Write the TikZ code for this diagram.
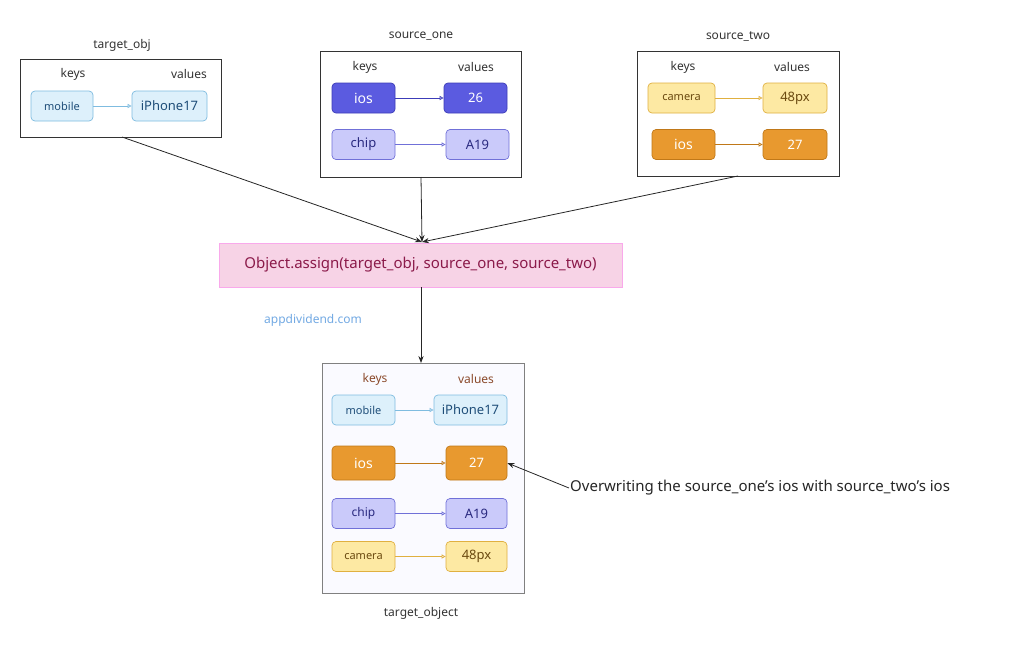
\documentclass[tikz,border=0pt]{standalone}
\usepackage{fontspec}
\setmainfont{Noto Sans}
\usetikzlibrary{arrows.meta}
\definecolor{bfill}{HTML}{DDF0FB}\definecolor{bdraw}{HTML}{7FBCE0}\definecolor{btext}{HTML}{1F4E79}
\definecolor{dfill}{HTML}{5B5BE0}\definecolor{ddraw}{HTML}{3C3CB8}
\definecolor{lfill}{HTML}{CACAFA}\definecolor{ldraw}{HTML}{7070D8}\definecolor{ltext}{HTML}{2A2A80}
\definecolor{yfill}{HTML}{FDE9A3}\definecolor{ydraw}{HTML}{E0B040}\definecolor{ytext}{HTML}{6B4A10}
\definecolor{ofill}{HTML}{E8992F}\definecolor{odraw}{HTML}{C07818}
\definecolor{pfill}{HTML}{F7D3E6}\definecolor{ptext}{HTML}{8B1A4A}
\definecolor{brown}{HTML}{8B4A2B}
\begin{document}
\begin{tikzpicture}[x=1pt,y=-1pt,
 box/.style={draw=black!80,line width=0.8pt,fill=white},
 kv/.style={rounded corners=4pt,line width=0.7pt,anchor=center,inner sep=0pt,minimum height=30pt,font=\fontsize{11}{13}\selectfont},
 blue/.style={kv,fill=bfill,draw=bdraw,text=btext},
 dark/.style={kv,fill=dfill,draw=ddraw,text=white,font=\fontsize{14}{16}\selectfont},
 light/.style={kv,fill=lfill,draw=ldraw,text=ltext},
 yel/.style={kv,fill=yfill,draw=ydraw,text=ytext},
 ora/.style={kv,fill=ofill,draw=odraw,text=white,font=\fontsize{14}{16}\selectfont},
 lbl/.style={font=\fontsize{12}{14}\selectfont,text=black!80},
 con/.style={-{Triangle[open,length=4pt,width=4pt]},line width=0.7pt},
 main/.style={-{Stealth[length=7pt]},line width=0.8pt,black!85}]
\useasboundingbox (0,0) rectangle (1024,648);
% target_obj
\draw[box] (20,59) rectangle (221,137);
\node[lbl] (t1) at (122,45) {target\_obj};
\node[lbl] at (73,74) {keys}; \node[lbl] at (189,74) {values};
\node[blue,minimum width=62pt] (a1) at (62,106) {mobile};
\node[blue,minimum width=75pt,font=\fontsize{13}{15}\selectfont] (a2) at (169.5,106) {iPhone17};
\draw[con,bdraw] (a1) -- (a2);
\coordinate (tb) at (122,137);
% source_one
\draw[box] (320,51) rectangle (521,177);
\node[lbl] at (421,36) {source\_one};
\node[lbl] at (365,67) {keys}; \node[lbl] at (476,67) {values};
\node[dark,minimum width=63pt] (b1) at (363.5,98) {ios};
\node[dark,minimum width=63pt,font=\bfseries\fontsize{13}{15}\selectfont] (b2) at (475.5,98) {26};
\draw[con,ddraw] (b1) -- (b2);
\node[light,minimum width=63pt,font=\fontsize{13}{15}\selectfont] (b3) at (363.5,144.5) {chip};
\node[light,minimum width=63pt,font=\fontsize{13}{15}\selectfont] (b4) at (477.5,144.5) {A19};
\draw[con,ldraw] (b3) -- (b4);
\coordinate (sb) at (421,177);
% source_two
\draw[box] (637,51) rectangle (839,176);
\node[lbl] at (738,36) {source\_two};
\node[lbl] at (683,67) {keys}; \node[lbl] at (792,67) {values};
\node[yel,minimum width=67pt] (c1) at (681.5,98) {camera};
\node[yel,minimum width=64pt,font=\fontsize{13}{15}\selectfont] (c2) at (795,98) {48px};
\draw[con,ydraw] (c1) -- (c2);
\node[ora,minimum width=63pt] (c3) at (683.5,144.5) {ios};
\node[ora,minimum width=64pt,font=\bfseries\fontsize{13}{15}\selectfont] (c4) at (795,144.5) {27};
\draw[con,odraw] (c3) -- (c4);
\coordinate (s2b) at (738,176);
% assign
\node[fill=pfill,draw=pfill!80!magenta,line width=0.5pt,minimum width=403pt,minimum height=44pt,text=ptext,font=\fontsize{15}{18}\selectfont] (as) at (420.5,265) {Object.assign(target\_obj, source\_one, source\_two)};
\coordinate (m) at (422,242);
\draw[main] (tb) -- (m);
\draw[main] (sb) -- (m);
\draw[main] (s2b) -- (m);
\node[text=bdraw!90!blue,font=\fontsize{12}{14}\selectfont] at (313,320) {appdividend.com};
% result
\draw[draw=black!50,line width=0.7pt,fill=blue!2] (322,363) rectangle (524,593);
\coordinate (rt) at (421,363);
\draw[main] (as.south -| rt) -- (rt);
\node[lbl,text=brown] at (375,379) {keys}; \node[lbl,text=brown] at (476,379) {values};
\node[blue,minimum width=63pt] (r1) at (363.5,410) {mobile};
\node[blue,minimum width=73pt,font=\fontsize{13}{15}\selectfont] (r2) at (470.5,410) {iPhone17};
\draw[con,bdraw] (r1) -- (r2);
\node[ora,minimum width=63pt,minimum height=34pt] (r3) at (363.5,463) {ios};
\node[ora,minimum width=61pt,minimum height=34pt,font=\bfseries\fontsize{13}{15}\selectfont] (r4) at (476.5,463) {27};
\draw[con,odraw] (r3) -- (r4);
\node[light,minimum width=63pt,font=\fontsize{12}{14}\selectfont] (r5) at (363.5,513.5) {chip};
\node[light,minimum width=61pt,font=\fontsize{13}{15}\selectfont] (r6) at (476.5,513.5) {A19};
\draw[con,ldraw] (r5) -- (r6);
\node[yel,minimum width=63pt] (r7) at (363.5,556.5) {camera};
\node[yel,minimum width=61pt,font=\fontsize{13}{15}\selectfont] (r8) at (476.5,556.5) {48px};
\draw[con,ydraw] (r7) -- (r8);
\node[lbl] at (421,613) {target\_object};
\node[anchor=west,inner sep=1pt,font=\fontsize{15}{18}\selectfont,text=black!85] (note) at (569,488) {Overwriting the source\_one’s ios with source\_two’s ios};
\draw[main] (note.west) -- (r4.east);
\end{tikzpicture}
\end{document}
